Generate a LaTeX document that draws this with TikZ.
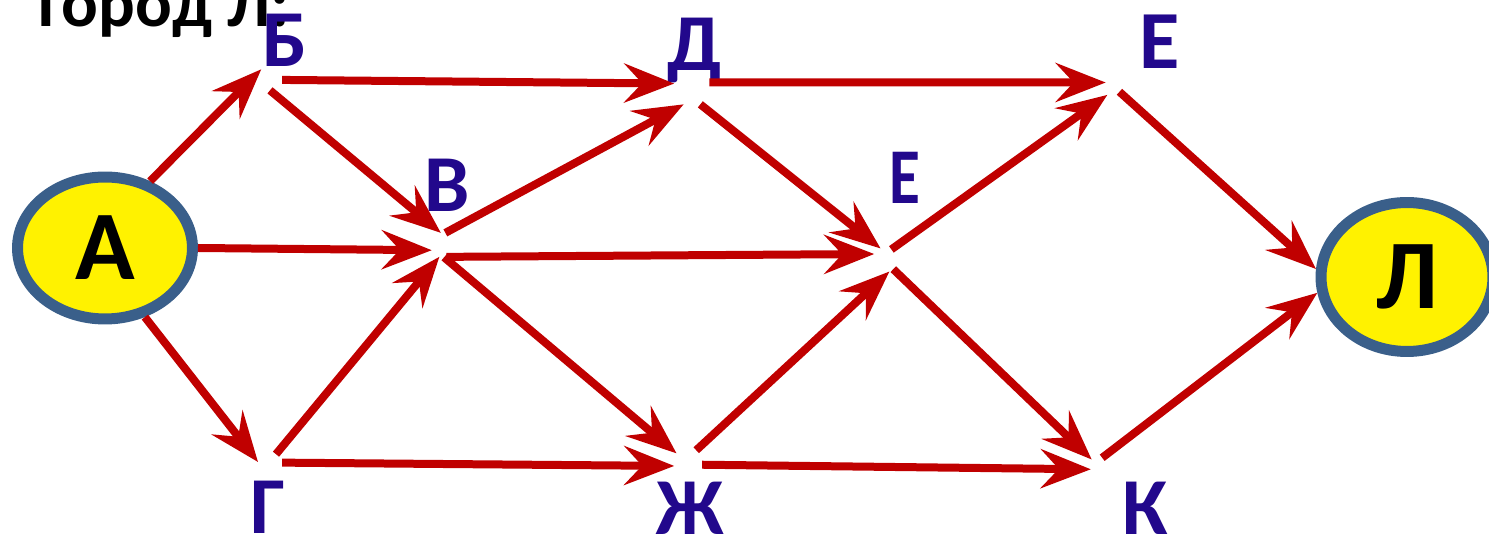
\documentclass[tikz,border=0pt]{standalone}
\usepackage{fontspec}
\setmainfont{Carlito}
\usepackage{tikz}
\usepackage{xcolor}
\usetikzlibrary{shapes.geometric, arrows.meta}
\definecolor{edgered}{RGB}{192, 0, 0}
\definecolor{lblblue}{RGB}{34, 8, 140}
\definecolor{ringblue}{RGB}{58, 95, 138}

\begin{document}
\begin{tikzpicture}[
    x=0.02cm, y=-0.02cm,
    font=\bfseries,
    city/.style={ellipse, draw=ringblue, fill=yellow, line width=0.22cm,
                 inner sep=0pt, font=\fontsize{56}{60}\selectfont\bfseries},
    vtx/.style={circle, inner sep=0pt, minimum size=#1},
    vtx/.default=0.48cm,
    lbl/.style={text=lblblue, inner sep=0pt, font=\fontsize{46}{50}\selectfont\bfseries},
    road/.style={edgered, line width=0.16cm,
                 -{Stealth[length=1cm, width=0.78cm, inset=0.36cm]}}
]
    \useasboundingbox (0,0) rectangle (1489,536);
    \clip (0,0) rectangle (1489,536);

    % --- Title (cut off at the top) ---
    \node[anchor=base west, inner sep=0pt, font=\fontsize{39}{44}\selectfont\bfseries]
        (title) at (38,27) {Город Л:};

    % --- Cities ---
    \node[city, minimum width=3.5cm, minimum height=2.84cm]  (a) at (105,248)  {А};
    \node[city, minimum width=3.44cm, minimum height=2.98cm] (l) at (1407,277) {Л};

    % --- Crossings ---
    \node[vtx]         (b)  at (270,78)   {};
    \node[vtx=0.72cm]  (d)  at (692,88)   {};
    \node[vtx=0.32cm]  (et) at (1112,88)  {};
    \node[vtx]         (v)  at (443,245)  {};
    \node[vtx]         (em) at (885,260)  {};
    \node[vtx]         (g)  at (270,465)  {};
    \node[vtx=0.56cm]  (zh) at (688,462)  {};
    \node[vtx=0.32cm]  (k)  at (1098,465) {};

    % --- Letters ---
    \node[lbl] (lb)  at (285,40)   {Б};
    \node[lbl] (ld)  at (695,50)   {Д};
    \node[lbl, font=\fontsize{47}{50}\selectfont\bfseries] (let) at (1160,42) {Е};
    \node[lbl] (lv)  at (447,185)  {В};
    \node[lbl, font=\fontsize{45}{48}\selectfont\bfseries] (lem) at (905,178) {\scalebox{0.8}[1]{Е}};
    \node[lbl] (lg)  at (268,507)  {Г};
    \node[lbl] (lzh) at (690,508)  {Ж};
    \node[lbl] (lk)  at (1145,508) {К};

    % --- Roads out of A ---
    \draw[road] (a.56)  -- (b.135);
    \draw[road] (a.0)   -- (v.205);
    \draw[road] (a.-60) -- (g.166);

    % --- Roads out of B and G ---
    \draw[road] (b.-9)  -- (d.166);
    \draw[road] (b.-90) -- (v.100);
    \draw[road] (g.61)  -- (v.253);
    \draw[road] (g.11)  -- (zh.196);

    % --- Roads out of V ---
    \draw[road] (v.79)  -- (d.243);
    \draw[road] (v.-74) -- (em.151);
    \draw[road] (v.-85) -- (zh.143);

    % --- Roads out of D and Zh ---
    \draw[road] (d.18)  -- (et.139);
    \draw[road] (d.-63) -- (em.111);
    \draw[road] (zh.55) -- (em.-69);
    \draw[road] (zh.-11) -- (k.211);

    % --- Roads out of the middle E ---
    \draw[road] (em.59)  -- (et.236);
    \draw[road] (em.-48) -- (k.139);

    % --- Roads into L ---
    \draw[road] (et.-27) -- (l.175);
    \draw[road] (k.60)   -- (l.190);

\end{tikzpicture}
\end{document}
